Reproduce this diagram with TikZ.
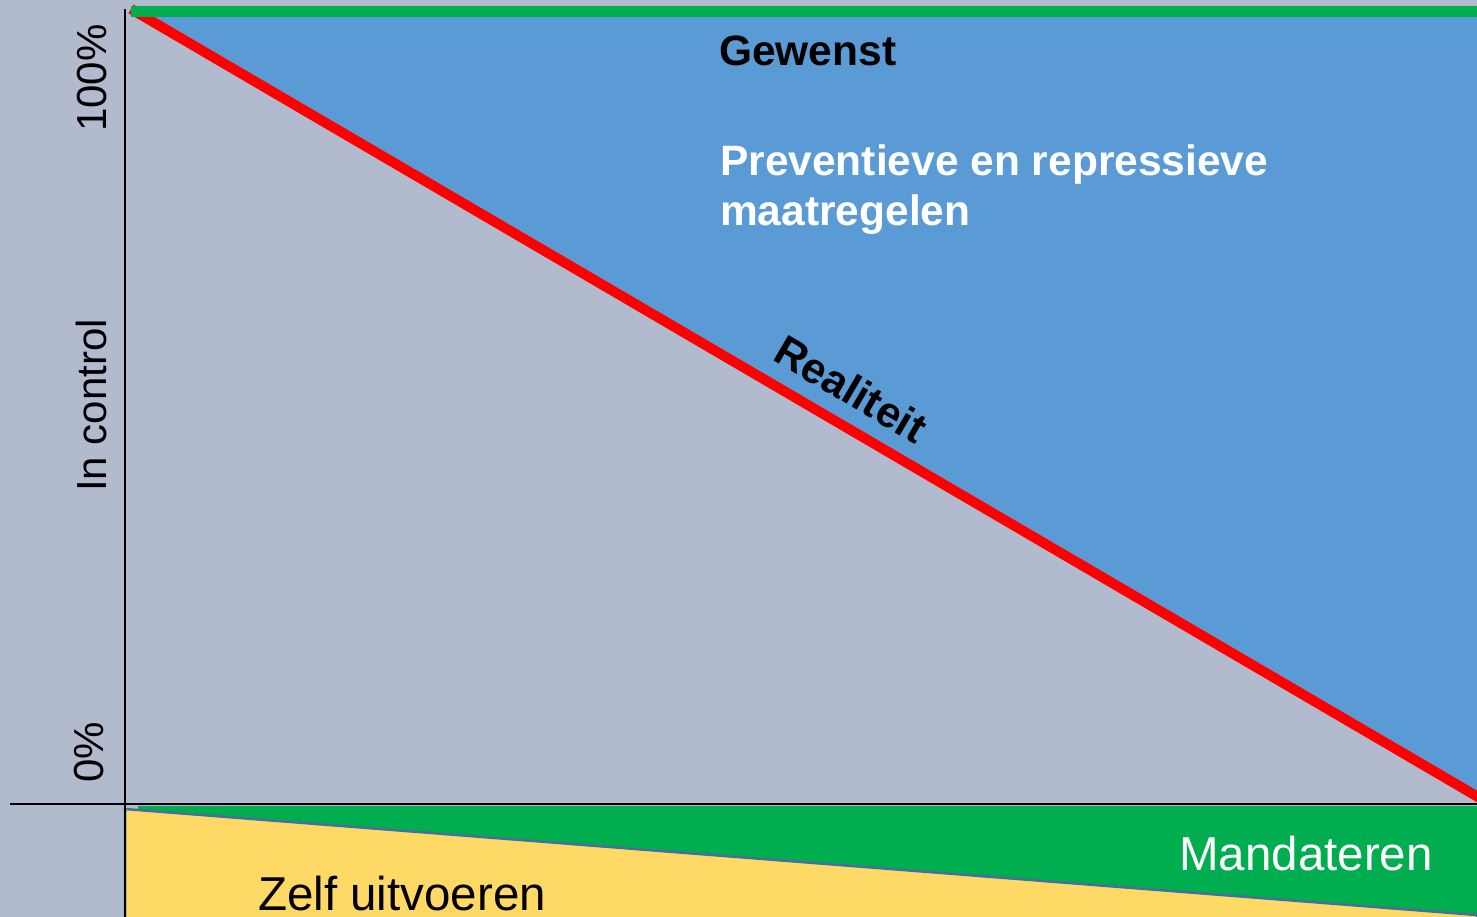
\documentclass[tikz,border=0pt]{standalone}
\usepackage{fontspec}
\setmainfont{Liberation Sans}
\definecolor{bggray}{HTML}{B2BACD}
\definecolor{areablue}{HTML}{5B9BD5}
\definecolor{areagreen}{HTML}{00AE50}
\definecolor{areayellow}{HTML}{FFD966}
\definecolor{edgeblue}{HTML}{41719C}
\tikzset{
  axisline/.style={black, line width=1.5pt},
  axislabel/.style={font=\fontsize{42}{42}\selectfont, text=black, inner sep=0pt, rotate=90, anchor=base west},
  boldlabel/.style={font=\bfseries\fontsize{42.5}{50}\selectfont, inner sep=0pt, anchor=base west, align=left},
  plainlabel/.style={font=\fontsize{47.5}{47.5}\selectfont, inner sep=0pt, anchor=base west},
}
\begin{document}
\begin{tikzpicture}[x=1pt,y=-1pt]
\useasboundingbox (0,0) rectangle (1477,917);
\begin{scope}
\clip (0,0) rectangle (1477,917);
\fill[bggray] (0,0) rectangle (1477,917);
% areas
\fill[areablue] (131,14) -- (1477,14) -- (1477,796) -- cycle;
\coordinate (rtop) at (131,9);
\coordinate (rend) at (1490,804);
\draw[red, line width=10pt] (rtop) -- (rend);
\fill[areagreen] (131,6) rectangle (1477,17);
% bottom part
\fill[areagreen] (138,806) rectangle (1477,917);
\draw[edgeblue, line width=2.5pt, fill=areayellow] (125,809) -- (1477,915) -- (1477,930) -- (125,930) -- cycle;
% axes
\coordinate (ytop) at (125,9);
\coordinate (ybot) at (125,917);
\coordinate (xleft) at (10,804);
\coordinate (xright) at (1477,804);
\draw[axisline] (ytop) -- (ybot);
\draw[axisline] (xleft) -- (xright);
\end{scope}
% labels
\node[axislabel] (p100) at (106,132) {100\%};
\node[axislabel] (inc) at (106,492) {In control};
\node[axislabel] (p0) at (103,783) {0\%};
\node[boldlabel, text=black] (gew) at (719,66) {Gewenst};
\node[boldlabel, text=white] (prev) at (720,226) {Preventieve en repressieve\\maatregelen};
\node[font=\bfseries\fontsize{43}{43}\selectfont, text=black, inner sep=0pt, rotate=-30.4] (real) at (851,389) {Realiteit};
\node[plainlabel, text=white] (mand) at (1179,870) {Mandateren};
\node[plainlabel, text=black] (zelf) at (258,910) {Zelf uitvoeren};
\end{tikzpicture}
\end{document}
